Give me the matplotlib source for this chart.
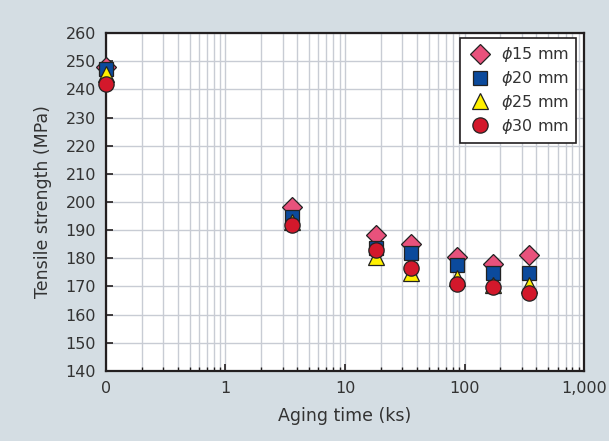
import matplotlib
matplotlib.use("Agg")
import matplotlib.pyplot as plt
from matplotlib.ticker import FixedLocator, FixedFormatter, LogLocator, NullFormatter

# aging time in ks (0 h plotted at 0.1 on the log axis)
time_ks = [0.1, 3.6, 18, 36, 86.4, 172.8, 345.6]
ts_15 = [248, 198.3, 188.3, 185.2, 180.6, 178.0, 181.3]
ts_20 = [247.4, 194.8, 183.5, 181.8, 177.6, 174.7, 174.9]
ts_25 = [245.5, 193.0, 180.6, 174.7, 173.0, 170.4, 170.5]
ts_30 = [241.8, 191.8, 182.8, 176.7, 170.8, 169.7, 167.6]
labels = [r"$\phi$15 mm", r"$\phi$20 mm", r"$\phi$25 mm", r"$\phi$30 mm"]

xticks = [0.1, 1, 10, 100, 1000]
xticklabels = ["0", "1", "10", "100", "1,000"]

bg = "#d4dde3"
fig = plt.figure(figsize=(6.09, 4.41), dpi=100, facecolor=bg)
ax = fig.add_axes([0.174, 0.159, 0.785, 0.766])
ax.set_facecolor("white")

styles = [
    dict(marker="D", color="#e8527c", ms=10),
    dict(marker="s", color="#0b4a9c", ms=10.5),
    dict(marker="^", color="#fff000", ms=12),
    dict(marker="o", color="#d3182b", ms=11),
]
for ys, lab, st in zip([ts_15, ts_20, ts_25, ts_30], labels, styles):
    ax.plot(time_ks, ys, linestyle="none", marker=st["marker"], ms=st["ms"],
            markerfacecolor=st["color"], markeredgecolor="#222222",
            markeredgewidth=0.9, label=lab, clip_on=False, zorder=3)

ax.set_xscale("log")
ax.set_xlim(0.1, 1000)
ax.set_ylim(140, 260)
ax.xaxis.set_major_locator(FixedLocator(xticks))
ax.xaxis.set_major_formatter(FixedFormatter(xticklabels))
ax.xaxis.set_minor_locator(LogLocator(base=10, subs=range(2, 10)))
ax.xaxis.set_minor_formatter(NullFormatter())
ax.set_yticks(range(140, 261, 10))

ax.grid(True, which="both", axis="x", color="#c8ccd4", lw=1.0)
ax.grid(True, which="major", axis="y", color="#c8ccd4", lw=1.0)
ax.set_axisbelow(True)

for s in ax.spines.values():
    s.set_color("#231f20")
    s.set_linewidth(1.6)

ax.tick_params(axis="both", which="major", direction="in", length=5,
               width=1.2, color="#231f20", labelsize=11.5, labelcolor="#333333", pad=7)
ax.tick_params(axis="x", which="minor", direction="in", length=3, width=1.0, color="#231f20")

ax.set_xlabel("Aging time (ks)", fontsize=12.5, color="#333333", labelpad=8)
ax.set_ylabel("Tensile strength (MPa)", fontsize=12.5, color="#333333", labelpad=10)

leg = ax.legend(loc="upper right", fontsize=11.5, frameon=True, fancybox=False,
                edgecolor="#231f20", framealpha=1, handletextpad=0.5,
                handlelength=1.6, labelspacing=0.3, borderpad=0.45,
                borderaxespad=0, bbox_to_anchor=(0.983, 0.985))
leg.get_frame().set_linewidth(1.2)
for t in leg.get_texts():
    t.set_color("#333333")

fig.savefig("out.png", dpi=100, facecolor=bg)
